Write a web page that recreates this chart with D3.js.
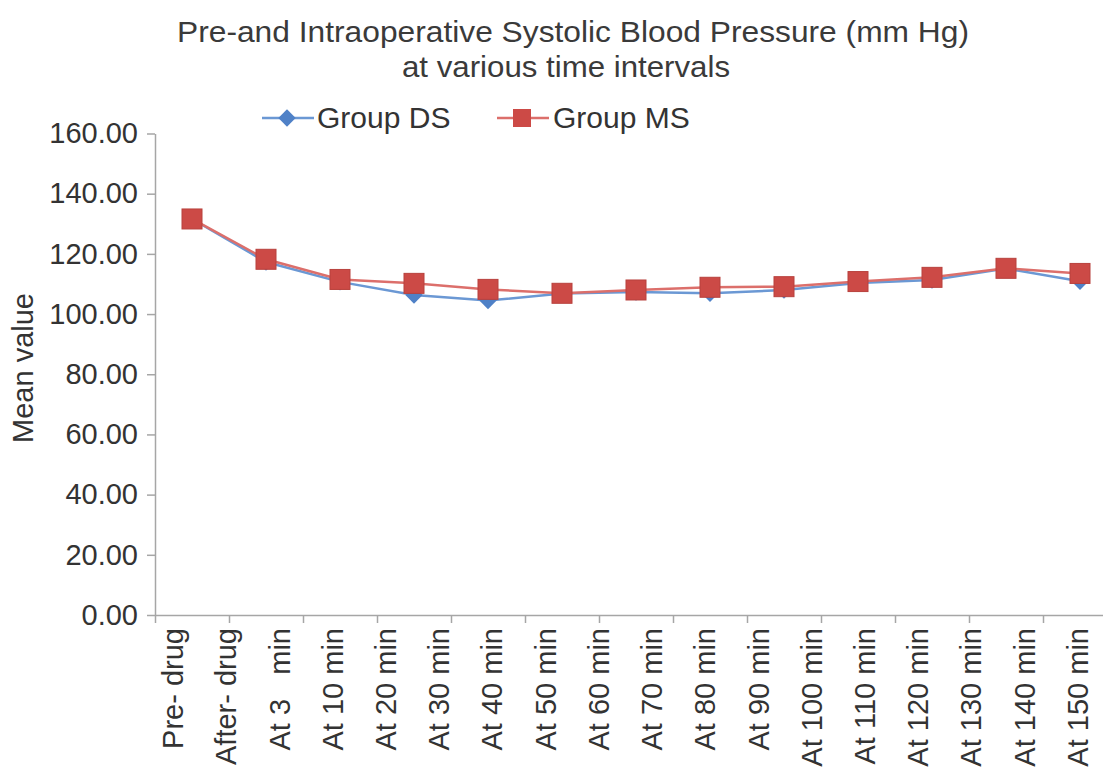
<!DOCTYPE html>
<html>
<head>
<meta charset="utf-8">
<script src="https://cdn.jsdelivr.net/npm/d3@7"></script>
<style>
  body { margin: 0; background: #fff; }
  svg { display: block; font-family: "Liberation Sans", Arial, sans-serif; }
  .axis path, .axis line { stroke: #a6a6a6; stroke-width: 1.5; }
  .axis text { fill: #333; font-size: 29px; font-family: "Liberation Sans", Arial, sans-serif; }
</style>
</head>
<body>
<div id="chart"></div>
<script>
// Data
const pointLabels = ["P1", "P2", "P3", "P4", "P5", "P6", "P7", "P8", "P9", "P10", "P11", "P12", "P13"]
const groupDS = [131.6, 117.3, 110.7, 106.3, 104.5, 106.8, 107.3, 106.9, 108.0, 110.3, 111.3, 115.1, 110.9]
const groupMS = [131.6, 118.2, 111.5, 110.2, 108.2, 106.9, 108.0, 108.9, 109.1, 110.8, 112.2, 115.2, 113.5]
const categoryLabels = ["Pre- drug", "After- drug", "At 3   min", "At 10 min", "At 20 min", "At 30 min",
  "At 40 min", "At 50 min", "At 60 min", "At 70 min", "At 80 min", "At 90 min", "At 100 min",
  "At 110 min", "At 120 min", "At 130 min", "At 140 min", "At 150 min"]
const yTicks = [0, 20, 40, 60, 80, 100, 120, 140, 160]
const seriesNames = ["Group DS", "Group MS"]

// 1. Dimensions
const width = 1103
const height = 775
const plot = { left: 155, right: 1117, top: 133.5, bottom: 615 }

const svg = d3.select("#chart").append("svg")
    .attr("width", width)
    .attr("height", height)

// 2. Scales
const xIdx = d3.scaleLinear()
    .domain([0, pointLabels.length])
    .range([plot.left, plot.right])
const xPoint = (d, i) => xIdx(i + 0.5)

const xLabel = d3.scaleBand()
    .domain(categoryLabels)
    .range([146, 1104])

const yScale = d3.scaleLinear()
    .domain([0, 160])
    .range([plot.bottom, plot.top])

// 3. Title
const title = svg.append("g").attr("fill", "#3a3a3a").attr("font-size", 30)
title.append("text")
    .attr("x", 573).attr("y", 42)
    .attr("text-anchor", "middle")
    .attr("textLength", 792).attr("lengthAdjust", "spacingAndGlyphs")
    .text("Pre-and Intraoperative Systolic Blood Pressure (mm Hg)")
title.append("text")
    .attr("x", 566).attr("y", 77)
    .attr("text-anchor", "middle")
    .attr("textLength", 328).attr("lengthAdjust", "spacingAndGlyphs")
    .text("at various time intervals")

// 4. Axes
svg.append("g")
    .attr("class", "axis")
    .attr("transform", `translate(${plot.left},0)`)
    .call(d3.axisLeft(yScale)
      .tickValues(yTicks)
      .tickFormat(d3.format(".2f"))
      .tickSize(8)
      .tickSizeOuter(0)
      .tickPadding(9))

svg.append("g")
    .attr("class", "axis")
    .attr("transform", `translate(0,${plot.bottom})`)
    .call(d3.axisBottom(xIdx)
      .tickValues(d3.range(pointLabels.length + 1))
      .tickFormat("")
      .tickSize(8)
      .tickSizeOuter(0))

svg.append("g")
    .selectAll("text")
    .data(categoryLabels)
    .join("text")
      .attr("transform", d => `translate(${xLabel(d) + xLabel.bandwidth() / 2},628) rotate(-90)`)
      .attr("text-anchor", "end")
      .attr("dy", "0.36em")
      .attr("fill", "#333")
      .attr("font-size", 29)
      .style("white-space", "pre")
      .text(d => d)

svg.append("text")
    .attr("transform", `translate(33,368) rotate(-90)`)
    .attr("text-anchor", "middle")
    .attr("fill", "#333")
    .attr("font-size", 29)
    .text("Mean value")

// 5. Lines and markers
const blue = "#4f81c7"
const red = "#cc4a46"

const line = d3.line()
    .x(xPoint)
    .y(d => yScale(d))

svg.append("path")
    .datum(groupDS)
    .attr("fill", "none")
    .attr("stroke", "#6b98d4")
    .attr("stroke-width", 2.5)
    .attr("d", line)

const diamond = d3.symbol().type(d3.symbolSquare).size(150)   // rotated 45° below
svg.append("g")
  .selectAll("path")
  .data(groupDS)
  .join("path")
    .attr("transform", (d, i) => `translate(${xPoint(d, i)},${yScale(d)}) rotate(45)`)
    .attr("d", diamond)
    .attr("fill", blue)

svg.append("path")
    .datum(groupMS)
    .attr("fill", "none")
    .attr("stroke", "#dc6f6b")
    .attr("stroke-width", 2.5)
    .attr("d", line)

const sq = 20
svg.append("g")
  .selectAll("rect")
  .data(groupMS)
  .join("rect")
    .attr("x", (d, i) => xPoint(d, i) - sq / 2)
    .attr("y", d => yScale(d) - sq / 2)
    .attr("width", sq)
    .attr("height", sq)
    .attr("fill", red)
    .attr("stroke", "#b8413d")
    .attr("stroke-width", 1)

// 6. Legend
const legend = svg.append("g").attr("transform", "translate(0,118)")
const legendItems = [
  { name: seriesNames[0], x0: 262, color: "#6b98d4", mark: blue, type: "diamond", tx: 317 },
  { name: seriesNames[1], x0: 497, color: "#dc6f6b", mark: red, type: "square", tx: 553 }
]
legendItems.forEach(item => {
  legend.append("line")
      .attr("x1", item.x0).attr("x2", item.x0 + 52)
      .attr("stroke", item.color).attr("stroke-width", 2.5)
  if (item.type == "diamond") {
    legend.append("path")
        .attr("transform", `translate(${item.x0 + 25},0) rotate(45)`)
        .attr("d", diamond)
        .attr("fill", item.mark)
  } else {
    legend.append("rect")
        .attr("x", item.x0 + 25 - 9).attr("y", -9)
        .attr("width", 18).attr("height", 18)
        .attr("fill", item.mark)
  }
  legend.append("text")
      .attr("x", item.tx).attr("y", 10)
      .attr("fill", "#333")
      .attr("font-size", 30)
      .text(item.name)
})
</script>
</body>
</html>
